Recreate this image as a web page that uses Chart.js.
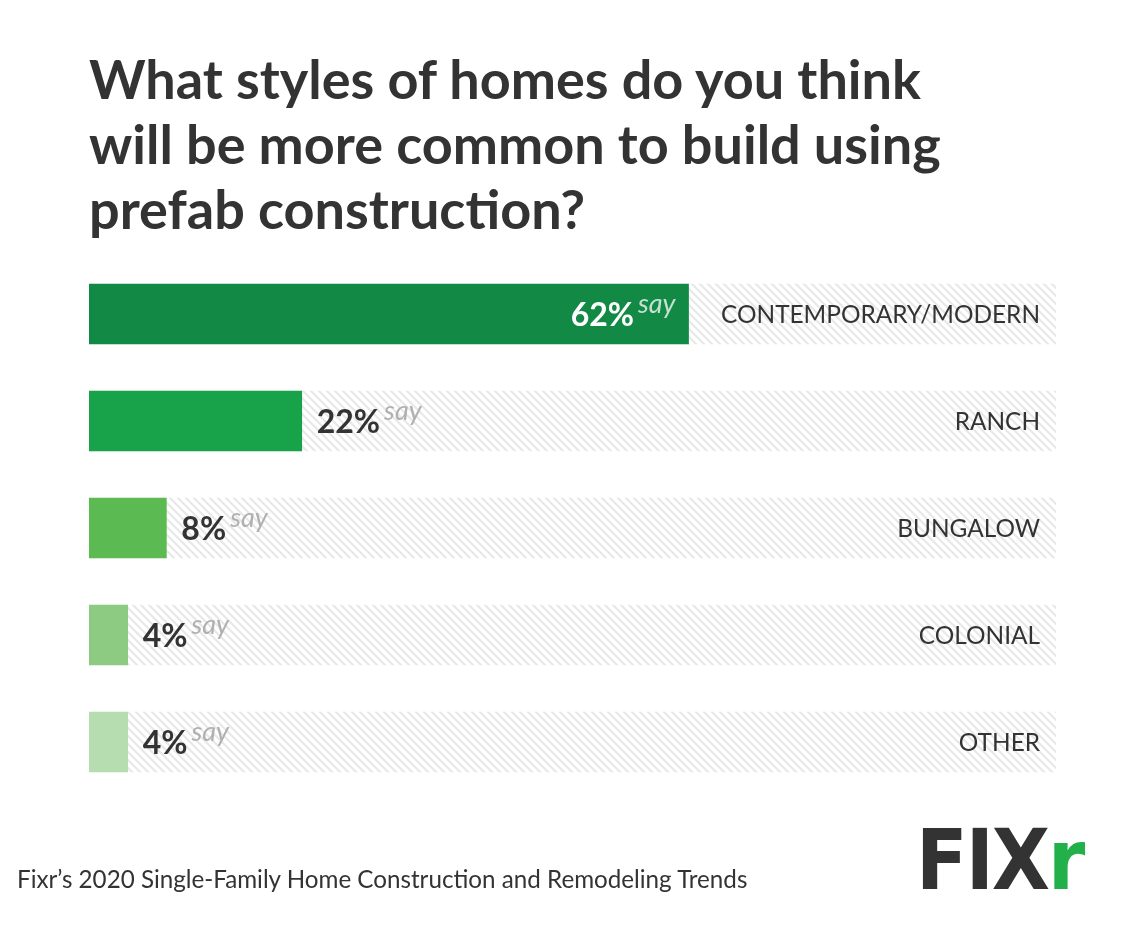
<!DOCTYPE html>
<html>
<head>
<meta charset="utf-8">
<script src="https://cdn.jsdelivr.net/npm/chart.js@4/dist/chart.umd.min.js"></script>
<style>
    html, body { margin: 0; padding: 0; background: #fff; }
    #wrap { position: relative; width: 1144px; height: 944px; overflow: hidden; font-family: Lato, "Noto Sans", sans-serif; color: #333; }
    #chart { position: absolute; left: 0; top: 0; }
    #title { position: absolute; left: 89px; top: 46px; margin: 0; font-size: 54px; font-weight: 700; line-height: 65px; color: #333; white-space: nowrap; }
    #source { position: absolute; left: 17px; top: 864px; font-size: 24.2px; color: #333; white-space: nowrap; }
    #logo { position: absolute; left: 916px; top: 818px; font-family: "Liberation Sans Narrow", "DejaVu Sans Condensed", sans-serif; font-weight: 700; font-size: 84px; line-height: 84px; letter-spacing: -2px; color: #333; }
    #logo span { color: #22b04b; }
</style>
</head>
<body>
<div id="wrap">
    <canvas id="chart" width="1144" height="944"></canvas>
    <h1 id="title">What styles of homes do you think<br>will be more common to build using<br>prefab construction?</h1>
    <div id="source">Fixr’s 2020 Single-Family Home Construction and Remodeling Trends</div>
    <div id="logo">FIX<span>r</span></div>
</div>
<script>
    // Data
    const styles = ['CONTEMPORARY/MODERN', 'RANCH', 'BUNGALOW', 'COLONIAL', 'OTHER'];
    const shares = [62, 22, 8, 4, 4];
    const barColors = ['#128a45', '#18a34a', '#5cba53', '#8ecb82', '#b6ddb0'];

    // Striped background pattern for the 100% track
    function makeStripes() {
        const c = document.createElement('canvas');
        c.width = 8;
        c.height = 8;
        const g = c.getContext('2d');
        g.fillStyle = '#ffffff';
        g.fillRect(0, 0, 8, 8);
        g.strokeStyle = '#e8e8e8';
        g.lineWidth = 2.2;
        g.beginPath();
        g.moveTo(-2, -2); g.lineTo(10, 10);
        g.moveTo(-10, -2); g.lineTo(2, 10);
        g.moveTo(6, -2); g.lineTo(18, 10);
        g.stroke();
        return document.getElementById('chart').getContext('2d').createPattern(c, 'repeat');
    }

    // Percentage + "say" labels next to each bar, category names at the right end
    const barLabels = {
        id: 'barLabels',
        afterDatasetsDraw(chart) {
            const ctx = chart.ctx;
            const meta = chart.getDatasetMeta(1);
            const yScale = chart.scales.y;
            const right = chart.chartArea.right;
            ctx.save();
            ctx.textBaseline = 'alphabetic';
            meta.data.forEach((bar, i) => {
                const pct = shares[i] + '%';
                const y = bar.y + 12;
                ctx.font = 'bold 32px Lato';
                const pw = ctx.measureText(pct).width;
                ctx.font = 'italic 27px Lato';
                const sw = ctx.measureText('say').width;
                const inside = shares[i] > 30;
                let x = inside ? bar.x - 13 - sw - 4 - pw : bar.x + 15;
                ctx.textAlign = 'left';
                ctx.font = 'bold 32px Lato';
                ctx.fillStyle = inside ? '#ffffff' : '#333333';
                ctx.fillText(pct, x, y);
                ctx.font = 'italic 27px Lato';
                ctx.fillStyle = inside ? 'rgba(255,255,255,0.75)' : '#b0b0b0';
                ctx.fillText('say', x + pw + 4, y - 13);

                // category name
                ctx.textAlign = 'right';
                ctx.font = '24.4px Lato';
                ctx.fillStyle = '#333333';
                ctx.fillText(styles[i], right - 16, yScale.getPixelForValue(i) + 9);
            });
            ctx.restore();
        }
    };

    const ctx = document.getElementById('chart').getContext('2d');
    const chart = new Chart(ctx, {
        type: 'bar',
        data: {
            labels: styles,
            datasets: [{
                data: styles.map(() => 100),
                backgroundColor: makeStripes(),
                barThickness: 60,
                grouped: false,
                order: 2
            }, {
                data: shares,
                backgroundColor: barColors,
                barThickness: 60,
                grouped: false,
                order: 1
            }]
        },
        plugins: [barLabels],
        options: {
            indexAxis: 'y',
            responsive: false,
            animation: false,
            layout: {
                padding: { left: 89, right: 88, top: 260.5, bottom: 148.5 }
            },
            scales: {
                x: {
                    display: false,
                    min: 0,
                    max: 100
                },
                y: {
                    display: false
                }
            },
            plugins: {
                legend: { display: false },
                tooltip: { enabled: false }
            }
        }
    });
</script>
</body>
</html>
